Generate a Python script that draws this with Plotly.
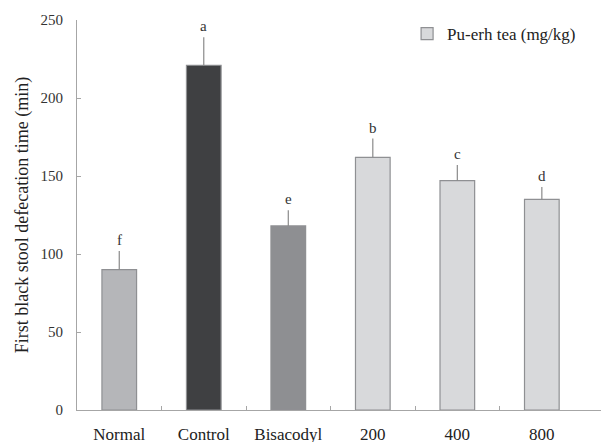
import plotly.graph_objects as go

# Group data
groups = ["Normal", "Control", "Bisacodyl", "200", "400", "800"]
means = [90, 221, 118, 162, 147, 135]
sd = [12, 18, 10, 12, 10, 8]
letters = ["f", "a", "e", "b", "c", "d"]
fills = ["#b5b6b9", "#3f4042", "#8e8f92", "#d8d9db", "#d8d9db", "#d8d9db"]
tea_label = "Pu-erh tea (mg/kg)"

serif = "Liberation Serif, Times New Roman, serif"
axis_grey = "#a6a6a6"
edge_grey = "#8f9093"

fig = go.Figure()

# Reference groups carry no legend entry; the tea doses share one entry
ref_idx = [0, 1, 2]
tea_idx = [3, 4, 5]
for idx, name, show in [(ref_idx, "ref", False), (tea_idx, tea_label, True)]:
    fig.add_trace(go.Bar(
        x=[groups[i] for i in idx],
        y=[means[i] for i in idx],
        marker=dict(color=[fills[i] for i in idx],
                    line=dict(color=edge_grey, width=1.2)),
        width=0.41,
        error_y=dict(type="data", symmetric=False,
                     array=[sd[i] for i in idx],
                     arrayminus=[0] * len(idx),
                     color="#8a8a8a", thickness=1.2, width=0),
        name=name,
        showlegend=show,
    ))

# Significance letters above the error bars (positioned by category index)
for i, (m, s, t) in enumerate(zip(means, sd, letters)):
    fig.add_annotation(x=i, y=m + s, text=t, showarrow=False,
                       xref="x", yref="y",
                       yanchor="bottom", yshift=1,
                       font=dict(family=serif, size=15, color="#333333"))

# Invisible trace on overlay axis to carry between-category tick marks
fig.add_trace(go.Scatter(x=[0.5], y=[0], xaxis="x2", mode="markers",
                         marker=dict(opacity=0), showlegend=False,
                         hoverinfo="skip"))

xr = [-0.5, 5.7]
fig.update_layout(
    width=603, height=442,
    margin=dict(l=77, r=2, t=20, b=32),
    paper_bgcolor="white", plot_bgcolor="white",
    barmode="overlay",
    font=dict(family=serif, color="#222222", size=13),
    xaxis=dict(type="category", range=xr, showline=True, linecolor=axis_grey,
               linewidth=1.2, ticks="", showgrid=False, zeroline=False,
               automargin=False, ticklabelstandoff=8,
               tickfont=dict(family=serif, size=17, color="#222222")),
    xaxis2=dict(overlaying="x", side="bottom", range=xr, type="linear",
                tickvals=[0.5, 1.5, 2.5, 3.5, 4.5], ticks="inside",
                ticklen=4, tickcolor=axis_grey, showticklabels=False,
                showgrid=False, zeroline=False, showline=False),
    yaxis=dict(range=[0, 250], tickvals=[0, 50, 100, 150, 200, 250],
               showline=True, linecolor=axis_grey, linewidth=1.2,
               ticks="inside", ticklen=4, tickcolor=axis_grey,
               showgrid=False, zeroline=False, automargin=False,
               tickfont=dict(family=serif, size=15, color="#333333"),
               ticklabelstandoff=10,
               title=dict(text="First black stool defecation time (min)",
                          font=dict(family=serif, size=18, color="#222222"),
                          standoff=7)),
    legend=dict(x=0.962, y=1.01, xanchor="right", yanchor="top",
                bgcolor="rgba(0,0,0,0)", itemwidth=30,
                font=dict(family=serif, size=17, color="#222222")),
)

fig.write_html("out.html")
